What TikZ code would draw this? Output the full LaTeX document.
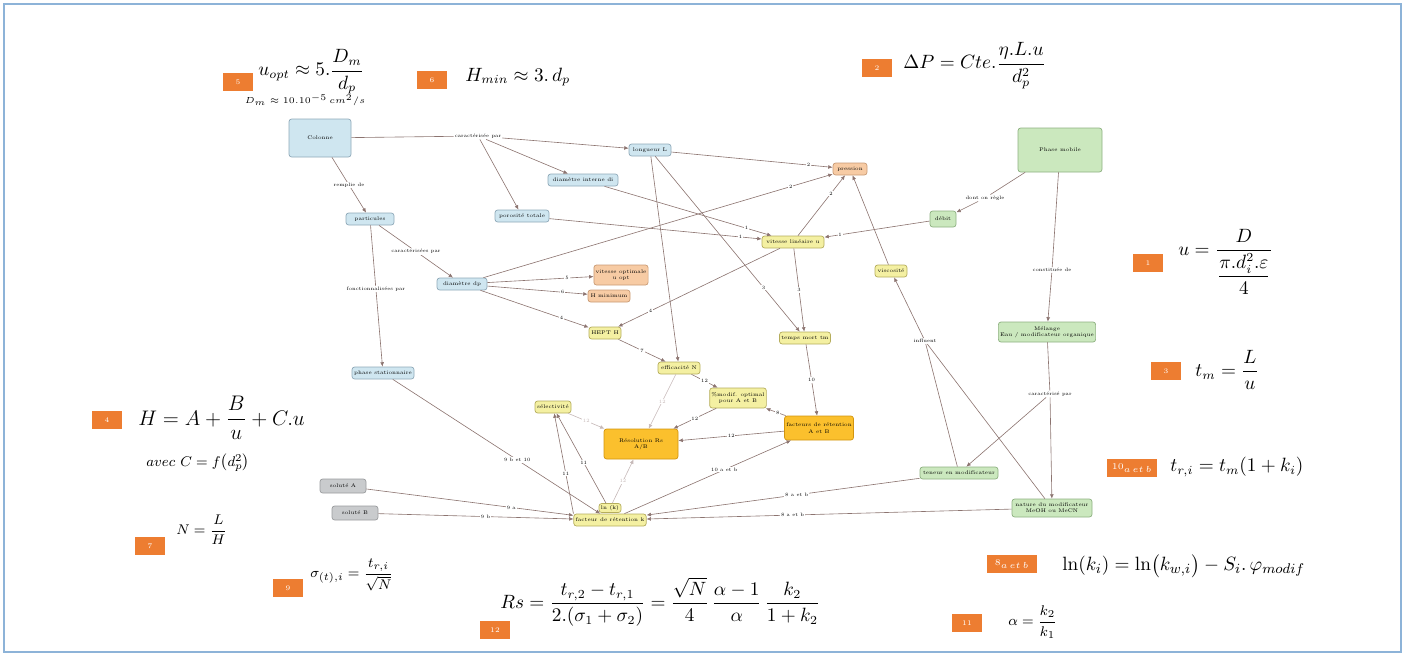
\documentclass[tikz,border=0pt]{standalone}
\usepackage{amsmath}
\usetikzlibrary{arrows.meta}

\definecolor{linkcol}{HTML}{8C7470}
\definecolor{bluefill}{HTML}{CFE6F0}
\definecolor{blueedge}{HTML}{8FA9B8}
\definecolor{yellowfill}{HTML}{F4F0A2}
\definecolor{yellowedge}{HTML}{B5AD5C}
\definecolor{orangefill}{HTML}{F7CBA4}
\definecolor{orangeedge}{HTML}{C89A74}
\definecolor{goldfill}{HTML}{FBC02D}
\definecolor{goldedge}{HTML}{D2950F}
\definecolor{greenfill}{HTML}{CBE8BE}
\definecolor{greenedge}{HTML}{8DB080}
\definecolor{grayfill}{HTML}{C9CBCD}
\definecolor{grayedge}{HTML}{9A9C9E}
\definecolor{tagorange}{HTML}{ED7D31}
\definecolor{framecol}{HTML}{8DB3D8}

\tikzset{
  concept/.style={draw, rounded corners=1.5pt, line width=0.4pt, align=center,
    font=\fontsize{3}{3.6}\selectfont, inner sep=1pt, minimum height=12*0.02cm},
  bluec/.style={concept, fill=bluefill, draw=blueedge},
  yellowc/.style={concept, fill=yellowfill, draw=yellowedge},
  orangec/.style={concept, fill=orangefill, draw=orangeedge},
  goldc/.style={concept, fill=goldfill, draw=goldedge},
  greenc/.style={concept, fill=greenfill, draw=greenedge},
  grayc/.style={concept, fill=grayfill, draw=grayedge},
  link/.style={draw=linkcol, line width=0.35pt, -{Latex[length=2.5pt,width=2.2pt]}},
  plain/.style={draw=linkcol, line width=0.35pt},
  linklabel/.style={fill=white, inner sep=0.5pt, font=\fontsize{2.8}{3.2}\selectfont},
  tag/.style={fill=tagorange, text=white, font=\fontsize{4}{5}\selectfont,
    minimum width=30*0.02cm, minimum height=18*0.02cm, inner sep=0pt},
  formula/.style={font=\fontsize{10.5}{12.5}\selectfont, inner sep=0pt},
}

\begin{document}
\begin{tikzpicture}[x=0.02cm, y=-0.02cm]
\useasboundingbox (0,0) rectangle (1405,656);
\draw[framecol, line width=0.6pt] (4,4) rectangle (1401,652);

% Column side (blue)
\node[bluec, minimum width=62*0.02cm, minimum height=38*0.02cm] (colonne) at (320,138) {Colonne};
\node[bluec, minimum width=48*0.02cm] (particules) at (370,219) {particules};
\node[bluec, minimum width=50*0.02cm] (diamdp) at (462,284) {diamètre dp};
\node[bluec, minimum width=42*0.02cm] (longueur) at (650,150) {longueur L};
\node[bluec, minimum width=70*0.02cm] (diamint) at (583,180) {diamètre interne di};
\node[bluec, minimum width=54*0.02cm] (porosite) at (522,216) {porosité totale};
\node[bluec, minimum width=62*0.02cm] (phasestat) at (383,373) {phase stationnaire};

% Orange results
\node[orangec, minimum width=34*0.02cm] (pression) at (850,169) {pression};
\node[orangec, minimum width=48*0.02cm, minimum height=20*0.02cm] (uopt) at (621,275) {vitesse optimale\\u opt};
\node[orangec, minimum width=42*0.02cm] (hmin) at (609,296) {H minimum};

% Yellow quantities
\node[yellowc, minimum width=62*0.02cm] (vitesse) at (793,242) {vitesse linéaire u};
\node[yellowc, minimum width=32*0.02cm] (hept) at (605,333) {HEPT H};
\node[yellowc, minimum width=42*0.02cm] (efficacite) at (679,368) {efficacité N};
\node[yellowc, minimum width=50*0.02cm] (tempsmort) at (805,338) {temps mort tm};
\node[yellowc, minimum width=32*0.02cm] (viscosite) at (891,271) {viscosité};
\node[yellowc, minimum width=52*0.02cm, minimum height=20*0.02cm] (modifopt) at (738,398) {\%modif. optimal\\pour A et B};
\node[yellowc, minimum width=36*0.02cm] (selectivite) at (553,407) {sélectivité};
\node[yellowc, minimum width=22*0.02cm, minimum height=9*0.02cm] (lnk) at (610,508) {ln (k)};
\node[yellowc, minimum width=68*0.02cm] (facteurk) at (610,520) {facteur de rétention k};

% Gold
\node[goldc, minimum width=74*0.02cm, minimum height=30*0.02cm] (resolution) at (641,444) {Résolution Rs\\A/B};
\node[goldc, minimum width=66*0.02cm, minimum height=24*0.02cm] (facteursAB) at (819,428) {facteurs de rétention\\A et B};

% Mobile phase (green)
\node[greenc, minimum width=84*0.02cm, minimum height=44*0.02cm] (phasemobile) at (1060,150) {Phase mobile};
\node[greenc, minimum width=26*0.02cm, minimum height=16*0.02cm] (debit) at (943,219) {débit};
\node[greenc, minimum width=96*0.02cm, minimum height=20*0.02cm] (melange) at (1047,332) {Mélange\\Eau / modificateur organique};
\node[greenc, minimum width=78*0.02cm] (teneur) at (959,473) {teneur en modificateur};
\node[greenc, minimum width=80*0.02cm, minimum height=18*0.02cm] (nature) at (1052,508) {nature du modificateur\\MeOH ou MeCN};

% Solutes (gray)
\node[grayc, minimum width=46*0.02cm, minimum height=14*0.02cm] (soluteA) at (343,486) {soluté A};
\node[grayc, minimum width=46*0.02cm, minimum height=14*0.02cm] (soluteB) at (355,513) {soluté B};

% Branching link labels
\node[linklabel] (carpar) at (478,136) {caractérisée par};
\node[linklabel] (dontregle) at (985,198) {dont on règle};
\node[linklabel] (constituee) at (1052,270) {constituée de};
\node[linklabel] (carpar2) at (1050,394) {caractérisé par};
\node[linklabel] (influent) at (925,341) {influent};

% Column links
\draw[plain] (colonne) -- (carpar);
\draw[link] (carpar) -- (longueur);
\draw[link] (carpar) -- (diamint);
\draw[link] (carpar) -- (porosite);
\draw[link] (colonne) -- node[linklabel] {remplie de} (particules);
\draw[link] (particules) -- node[linklabel] {caractérisées par} (diamdp);
\draw[link] (particules) -- node[linklabel, pos=0.45] {fonctionnalisées par} (phasestat);
\draw[link] (phasestat) -- node[linklabel, pos=0.6] {9 b et 10} (facteurk);

% Pressure and velocity
\draw[link] (longueur) -- node[linklabel, pos=0.85] {2} (pression);
\draw[link] (diamdp) -- node[linklabel, pos=0.88] {2} (pression);
\draw[link] (vitesse) -- node[linklabel, pos=0.7] {2} (pression);
\draw[link] (viscosite) -- (pression);
\draw[link] (diamint) -- node[linklabel, pos=0.85] {1} (vitesse);
\draw[link] (porosite) -- node[linklabel, pos=0.9] {1} (vitesse);
\draw[link] (debit) -- node[linklabel, pos=0.85] {1} (vitesse);

% Efficiency
\draw[link] (diamdp) -- node[linklabel, pos=0.75] {5} (uopt);
\draw[link] (diamdp) -- node[linklabel, pos=0.75] {6} (hmin);
\draw[link] (diamdp) -- node[linklabel, pos=0.75] {4} (hept);
\draw[link] (vitesse) -- node[linklabel, pos=0.8] {4} (hept);
\draw[link] (hept) -- node[linklabel] {7} (efficacite);
\draw[link] (longueur) -- (efficacite);
\draw[link] (longueur) -- node[linklabel, pos=0.75] {3} (tempsmort);
\draw[link] (vitesse) -- node[linklabel] {3} (tempsmort);
\draw[link] (tempsmort) -- node[linklabel] {10} (facteursAB);
\draw[link] (efficacite) -- node[linklabel] {12} (modifopt);
\draw[link, linkcol!50] (efficacite) -- node[linklabel] {12} (resolution);

% Resolution
\draw[link] (modifopt) -- node[linklabel] {12} (resolution);
\draw[link] (facteursAB) -- node[linklabel, pos=0.4] {8} (modifopt);
\draw[link] (facteursAB) -- node[linklabel] {12} (resolution);
\draw[link, linkcol!50] (selectivite) -- node[linklabel] {12} (resolution);
\draw[link, linkcol!50] (lnk) -- node[linklabel] {12} (resolution);
\draw[link] (facteurk.north west) -- node[linklabel, pos=0.4] {11} (selectivite);
\draw[link] ([xshift=-4*0.02cm]lnk.north) -- node[linklabel, pos=0.45] {11} (selectivite);
\draw[link] (facteurk) -- node[linklabel, pos=0.6] {10 a et b} (facteursAB);

% Solutes and mobile phase to k
\draw[link] (soluteA) -- node[linklabel, pos=0.7] {9 a} (facteurk);
\draw[link] (soluteB) -- node[linklabel, pos=0.55] {9 b} (facteurk);
\draw[link] (teneur) -- node[linklabel, pos=0.45] {8 a et b} (facteurk);
\draw[link] (nature) -- node[linklabel, pos=0.6] {8 a et b} (facteurk);

% Mobile phase
\draw[plain] (phasemobile) -- (dontregle);
\draw[link] (dontregle) -- (debit);
\draw[plain] (phasemobile) -- (constituee);
\draw[link] (constituee) -- (melange);
\draw[plain] (melange) -- (carpar2);
\draw[link] (carpar2) -- (teneur);
\draw[link] (carpar2) -- (nature);
\draw[plain] (teneur) -- (influent);
\draw[plain] (nature) -- (influent);
\draw[link] (influent) -- (viscosite);

% Formulas
\node[tag] (t5) at (238,82) {5};
\node[formula, anchor=west] (f5) at (258,72) {$u_{opt}\approx 5.\dfrac{D_m}{d_p}$};
\node[inner sep=0pt, font=\fontsize{3}{4}\selectfont] (f5b) at (305,100) {$D_m\approx 10.10^{-5}\,cm^2/s$};
\node[tag] (t6) at (432,80) {6};
\node[formula, anchor=west] (f6) at (465,77) {$H_{min}\approx 3.\,d_p$};
\node[tag] (t2) at (877,68) {2};
\node[formula, anchor=west] (f2) at (903,66) {$\Delta P = Cte.\dfrac{\eta.L.u}{d_p^2}$};
\node[tag] (t1) at (1148,263) {1};
\node[formula, anchor=west] (f1) at (1178,262) {$u=\dfrac{D}{\dfrac{\pi.d_i^2.\varepsilon}{4}}$};
\node[tag] (t3) at (1166,371) {3};
\node[formula, anchor=west] (f3) at (1195,370) {$t_m=\dfrac{L}{u}$};
\node[tag] (t4) at (107,420) {4};
\node[formula, anchor=west, font=\fontsize{12}{14}\selectfont] (f4) at (138,418) {$H = A+\dfrac{B}{u}+C.u$};
\node[inner sep=0pt, font=\fontsize{8}{10}\selectfont] (f4b) at (198,463) {$avec\ C=f\bigl(d_p^2\bigr)$};
\node[tag] (t7) at (150,546) {7};
\node[inner sep=0pt, anchor=west, font=\fontsize{8}{10}\selectfont] (f7) at (176,530) {$N=\dfrac{L}{H}$};
\node[tag] (t9) at (288,588) {9};
\node[inner sep=0pt, anchor=west, font=\fontsize{8}{10}\selectfont] (f9) at (310,575) {$\sigma_{(t),i}=\dfrac{t_{r,i}}{\sqrt{N}}$};
\node[tag] (t12) at (495,630) {12};
\node[formula, anchor=west] (f12) at (500,602) {$Rs=\dfrac{t_{r,2}-t_{r,1}}{2.(\sigma_1+\sigma_2)}=\dfrac{\sqrt{N}}{4}\,\dfrac{\alpha-1}{\alpha}\,\dfrac{k_2}{1+k_2}$};
\node[tag, minimum width=50*0.02cm] (t10) at (1132,468) {$10_{a\,et\,b}$};
\node[formula, anchor=west] (f10) at (1170,467) {$t_{r,i}=t_m(1+k_i)$};
\node[tag, minimum width=50*0.02cm] (t8) at (1012,564) {$8_{a\,et\,b}$};
\node[formula, anchor=west, font=\fontsize{11}{13}\selectfont] (f8) at (1062,566) {$\ln(k_i)=\ln\bigl(k_{w,i}\bigr)-S_i.\,\varphi_{modif}$};
\node[tag] (t11) at (967,623) {11};
\node[formula, anchor=west, font=\fontsize{8}{10}\selectfont] (f11) at (1008,622) {$\alpha=\dfrac{k_2}{k_1}$};
\end{tikzpicture}
\end{document}
